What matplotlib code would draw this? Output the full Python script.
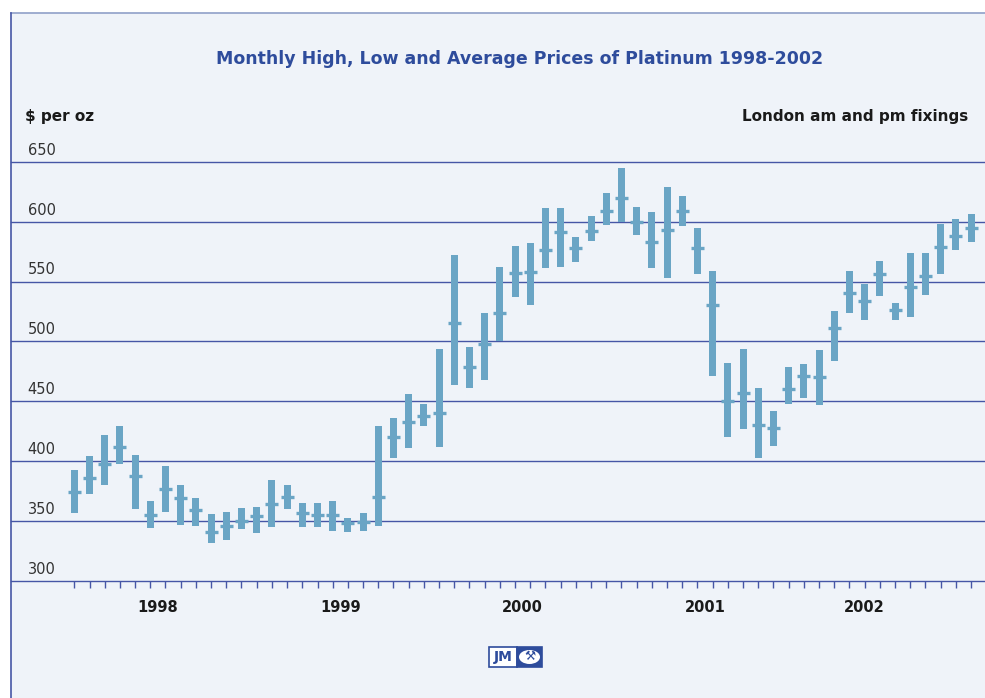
"""Platinum monthly high / low / average prices 1998-2002 (JM style range chart)."""
import matplotlib
matplotlib.use("Agg")
import matplotlib.pyplot as plt
from matplotlib import transforms
from matplotlib.patches import Rectangle, Ellipse
import numpy as np

# ---- data ($ per oz) --------------------------------------------------------
high = [393, 404, 422, 429, 405, 367, 396, 380, 369, 356, 358, 361,
        362, 384, 380, 365, 365, 367, 353, 357, 429, 436, 456, 448,
        494, 572, 495, 524, 562, 580, 582, 611, 611, 587, 605, 624,
        645, 612, 608, 629, 621, 595, 559, 482, 494, 461, 442, 479,
        481, 493, 525, 559, 548, 567, 532, 574, 574, 598, 602, 606]
low = [357, 373, 380, 398, 360, 344, 358, 347, 346, 332, 334, 343,
       340, 345, 360, 345, 345, 342, 341, 342, 346, 403, 411, 429,
       412, 464, 461, 468, 500, 537, 530, 561, 562, 566, 584, 597,
       600, 589, 561, 553, 596, 556, 471, 420, 427, 403, 413, 448,
       453, 447, 484, 524, 518, 538, 518, 520, 539, 556, 576, 583]
avg = [374, 386, 398, 412, 388, 355, 377, 369, 359, 341, 346, 350,
       354, 364, 370, 357, 355, 355, 348, 349, 370, 420, 433, 438,
       440, 515, 479, 498, 524, 557, 558, 576, 591, 578, 592, 609,
       620, 600, 583, 593, 609, 578, 530, 450, 457, 430, 428, 460,
       471, 470, 511, 540, 534, 556, 526, 545, 555, 579, 588, 595]
months = np.arange(1, len(high) + 1)

years = ["1998", "1999", "2000", "2001", "2002"]
year_pos = [6.5, 18.5, 30.5, 42.5, 53.0]
y_ticks = [300, 350, 400, 450, 500, 550, 600, 650]

BG = "#eff3f9"
BAR = "#6aa5c5"
LINE = "#4656a6"
TITLE = "#2e4c9c"

W, H = 985, 698
fig = plt.figure(figsize=(W / 100, H / 100), dpi=100)
fig.patch.set_facecolor("white")

# panel background + top / left border
fig.patches.append(Rectangle((10.5 / W, 0), 1, (H - 13) / H, transform=fig.transFigure,
                             facecolor=BG, edgecolor="none", zorder=-10))
fig.add_artist(plt.Line2D([10.5 / W, 1], [(H - 13) / H] * 2, color="#8fa0c8", lw=1.2))
fig.add_artist(plt.Line2D([10.5 / W] * 2, [0, (H - 13) / H], color=LINE, lw=1.2))

ax = fig.add_axes([10.5 / W, (H - 581) / H, 1 - 10.5 / W, (581 - 161.7) / H])
ax.set_zorder(2)
ax.patch.set_alpha(0)
for s in ax.spines.values():
    s.set_visible(False)

ax.set_ylim(300, 650)
ax.set_xlim(1 - (74.3 - 10.5) / 15.2, 60 + (985 - 971.1) / 15.2)

for v in y_ticks:
    ax.axhline(v, color=LINE, lw=1.0, zorder=1, clip_on=False)
ax.set_yticks([])

lo = np.array(low)
hi = np.array(high)
ax.bar(months, hi - lo, bottom=lo, width=0.46, color=BAR, zorder=2)
ax.hlines(avg, months - 0.43, months + 0.43, color=BAR, lw=2.4, zorder=3)

ax.set_xticks(months)
ax.tick_params(axis="x", direction="out", length=4.8, width=1.0, color=LINE,
               labelbottom=False)

# y labels sit above the gridlines, inside the panel
lab_tr = transforms.offset_copy(
    transforms.blended_transform_factory(ax.transAxes, ax.transData),
    fig=fig, x=0, y=4, units="dots")
for v in y_ticks:
    ax.text((27.7 - 10.5) / (W - 10.5), v, str(v), transform=lab_tr,
            ha="left", va="bottom", fontsize=10.5, color="#333333")

for yr, p in zip(years, year_pos):
    ax.text(p, -(607 - 581) / (581 - 161.7), yr,
            transform=transforms.blended_transform_factory(ax.transData, ax.transAxes),
            ha="center", va="center", fontsize=10.5, fontweight="bold", color="#1a1a1a")

fig.text(520 / W, 1 - 59 / H, "Monthly High, Low and Average Prices of Platinum 1998-2002",
         ha="center", va="center", fontsize=12.5, fontweight="bold", color=TITLE)
fig.text(25 / W, 1 - 116 / H, "$ per oz", ha="left", va="center",
         fontsize=11, fontweight="bold", color="#1a1a1a")
fig.text(968 / W, 1 - 116 / H, "London am and pm fixings", ha="right", va="center",
         fontsize=11, fontweight="bold", color="#1a1a1a")

# little JM logo at the bottom
lx0, lx1, lx2 = 489, 517, 542
ly0, ly1 = H - 667, H - 647
fig.patches.append(Rectangle((lx0 / W, ly0 / H), (lx1 - lx0) / W, (ly1 - ly0) / H,
                             transform=fig.transFigure, facecolor="white",
                             edgecolor=TITLE, lw=1.2, zorder=5))
fig.patches.append(Rectangle((lx1 / W, ly0 / H), (lx2 - lx1) / W, (ly1 - ly0) / H,
                             transform=fig.transFigure, facecolor=TITLE,
                             edgecolor=TITLE, lw=1.2, zorder=5))
fig.patches.append(Ellipse(((lx1 + lx2) / 2 / W, (ly0 + ly1) / 2 / H), 21 / W, 14 / H,
                           transform=fig.transFigure, facecolor="white",
                           edgecolor="none", zorder=6))
fig.text((lx0 + lx1) / 2 / W, (ly0 + ly1) / 2 / H, "JM", ha="center", va="center",
         fontsize=10, fontweight="bold", color=TITLE, zorder=7)
fig.text((lx1 + lx2) / 2 / W, (ly0 + ly1) / 2 / H, "\u2692", ha="center", va="center",
         fontsize=9, color=TITLE, zorder=7)

fig.savefig("out.png", dpi=100, facecolor=fig.get_facecolor())
